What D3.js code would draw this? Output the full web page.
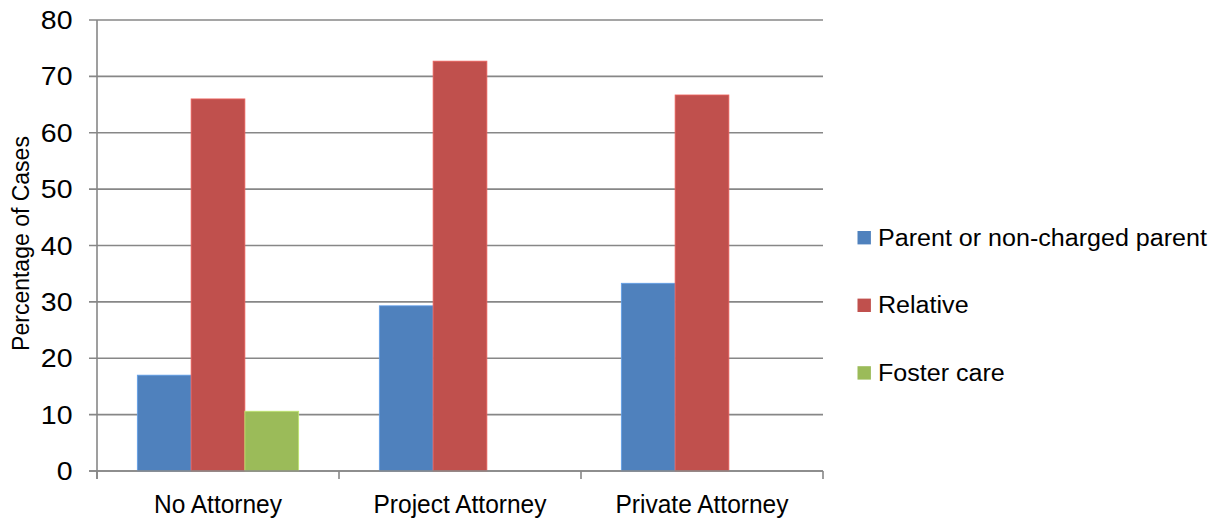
<!DOCTYPE html>
<html>
<head>
<meta charset="utf-8">
<script src="https://cdn.jsdelivr.net/npm/d3@7/dist/d3.min.js"></script>
<style>
  html, body { margin: 0; padding: 0; background: #fff; }
  svg { display: block; }
  text { font-family: "Liberation Sans", Arial, sans-serif; fill: #000; }
</style>
</head>
<body>
<svg id="chart" width="1217" height="518"></svg>
<script>
// Placement outcome by type of representation (percentage of cases)
const categories = ["No Attorney", "Project Attorney", "Private Attorney"];
const seriesNames = ["Parent or non-charged parent", "Relative", "Foster care"];
const parentValues = [17.0, 29.3, 33.3];
const relativeValues = [66.0, 72.7, 66.7];
const fosterValues = [10.6, 0, 0];
const yTicks = [0, 10, 20, 30, 40, 50, 60, 70, 80];
const colors = ["#4F81BD", "#C0504D", "#9BBB59"];

const seriesValues = [parentValues, relativeValues, fosterValues];
const rows = categories.map((c, i) => ({
  category: c,
  values: seriesNames.map((s, j) => ({ series: s, value: seriesValues[j][i], color: colors[j] }))
}));

const svg = d3.select("#chart");
const plot = { left: 97, right: 823, top: 20, bottom: 471 };

const x0 = d3.scaleBand().domain(categories).range([plot.left, plot.right]).paddingInner(0).paddingOuter(0);
const x1 = d3.scaleBand().domain(seriesNames).range([0, x0.bandwidth()]).paddingInner(0).paddingOuter(0.75);
const y = d3.scaleLinear().domain([0, 80]).range([plot.bottom, plot.top]);

const axisColor = "#878787";

// widen text horizontally by factor k
function stretch(sel, k) {
  sel.each(function () {
    const len = this.getComputedTextLength();
    d3.select(this).attr("textLength", len * k).attr("lengthAdjust", "spacingAndGlyphs");
  });
}

// horizontal gridlines
svg.append("g")
  .selectAll("line")
  .data(yTicks)
  .join("line")
  .attr("x1", plot.left - 8)
  .attr("x2", plot.right)
  .attr("y1", d => y(d))
  .attr("y2", d => y(d))
  .attr("stroke", axisColor)
  .attr("stroke-width", 1.6);

// bars
const groups = svg.append("g")
  .selectAll("g")
  .data(rows)
  .join("g")
  .attr("transform", d => `translate(${x0(d.category)},0)`);

groups.selectAll("rect")
  .data(d => d.values.filter(v => v.value > 0))
  .join("rect")
  .attr("x", d => x1(d.series))
  .attr("width", x1.bandwidth())
  .attr("y", d => y(d.value))
  .attr("height", d => y(0) - y(d.value))
  .attr("fill", d => d.color)
  .attr("stroke", d => d3.color(d.color).brighter(0.6))
  .attr("stroke-width", 0.8);

// y axis line and x axis baseline
svg.append("line")
  .attr("x1", plot.left).attr("x2", plot.left)
  .attr("y1", plot.top).attr("y2", plot.bottom + 8)
  .attr("stroke", axisColor).attr("stroke-width", 1.6);
svg.append("line")
  .attr("x1", plot.left - 8).attr("x2", plot.right)
  .attr("y1", plot.bottom).attr("y2", plot.bottom)
  .attr("stroke", axisColor).attr("stroke-width", 1.6);

// category boundary ticks
const bounds = categories.map(c => x0(c)).concat([x0(categories[categories.length - 1]) + x0.bandwidth()]);
svg.append("g")
  .selectAll("line")
  .data(bounds)
  .join("line")
  .attr("x1", d => d).attr("x2", d => d)
  .attr("y1", plot.bottom).attr("y2", plot.bottom + 8)
  .attr("stroke", axisColor).attr("stroke-width", 1.6);

// y tick labels
svg.append("g")
  .selectAll("text")
  .data(yTicks)
  .join("text")
  .attr("x", 72.5)
  .attr("y", d => y(d))
  .attr("dy", "0.36em")
  .attr("text-anchor", "end")
  .style("font-size", "25px")
  .text(d => d)
  .call(stretch, 1.14);

// y axis title
svg.append("text")
  .attr("transform", `translate(28.5,243.5) rotate(-90)`)
  .attr("text-anchor", "middle")
  .style("font-size", "23px")
  .text("Percentage of Cases");

// category labels
svg.append("g")
  .selectAll("text")
  .data(categories)
  .join("text")
  .attr("x", d => x0(d) + x0.bandwidth() / 2)
  .attr("y", 513)
  .attr("text-anchor", "middle")
  .style("font-size", "25px")
  .text(d => d)
  .call(stretch, 0.98);

// legend
const legend = svg.append("g")
  .selectAll("g")
  .data(seriesNames)
  .join("g")
  .attr("transform", (d, i) => `translate(860,${237.7 + i * 67.6})`);

legend.append("rect")
  .attr("x", -2.5)
  .attr("y", -6.7)
  .attr("width", 13.4)
  .attr("height", 13.4)
  .attr("fill", (d, i) => colors[i]);

legend.append("text")
  .attr("x", 18)
  .attr("y", 8)
  .style("font-size", "23px")
  .text(d => d)
  .call(stretch, 1.09);
</script>
</body>
</html>
